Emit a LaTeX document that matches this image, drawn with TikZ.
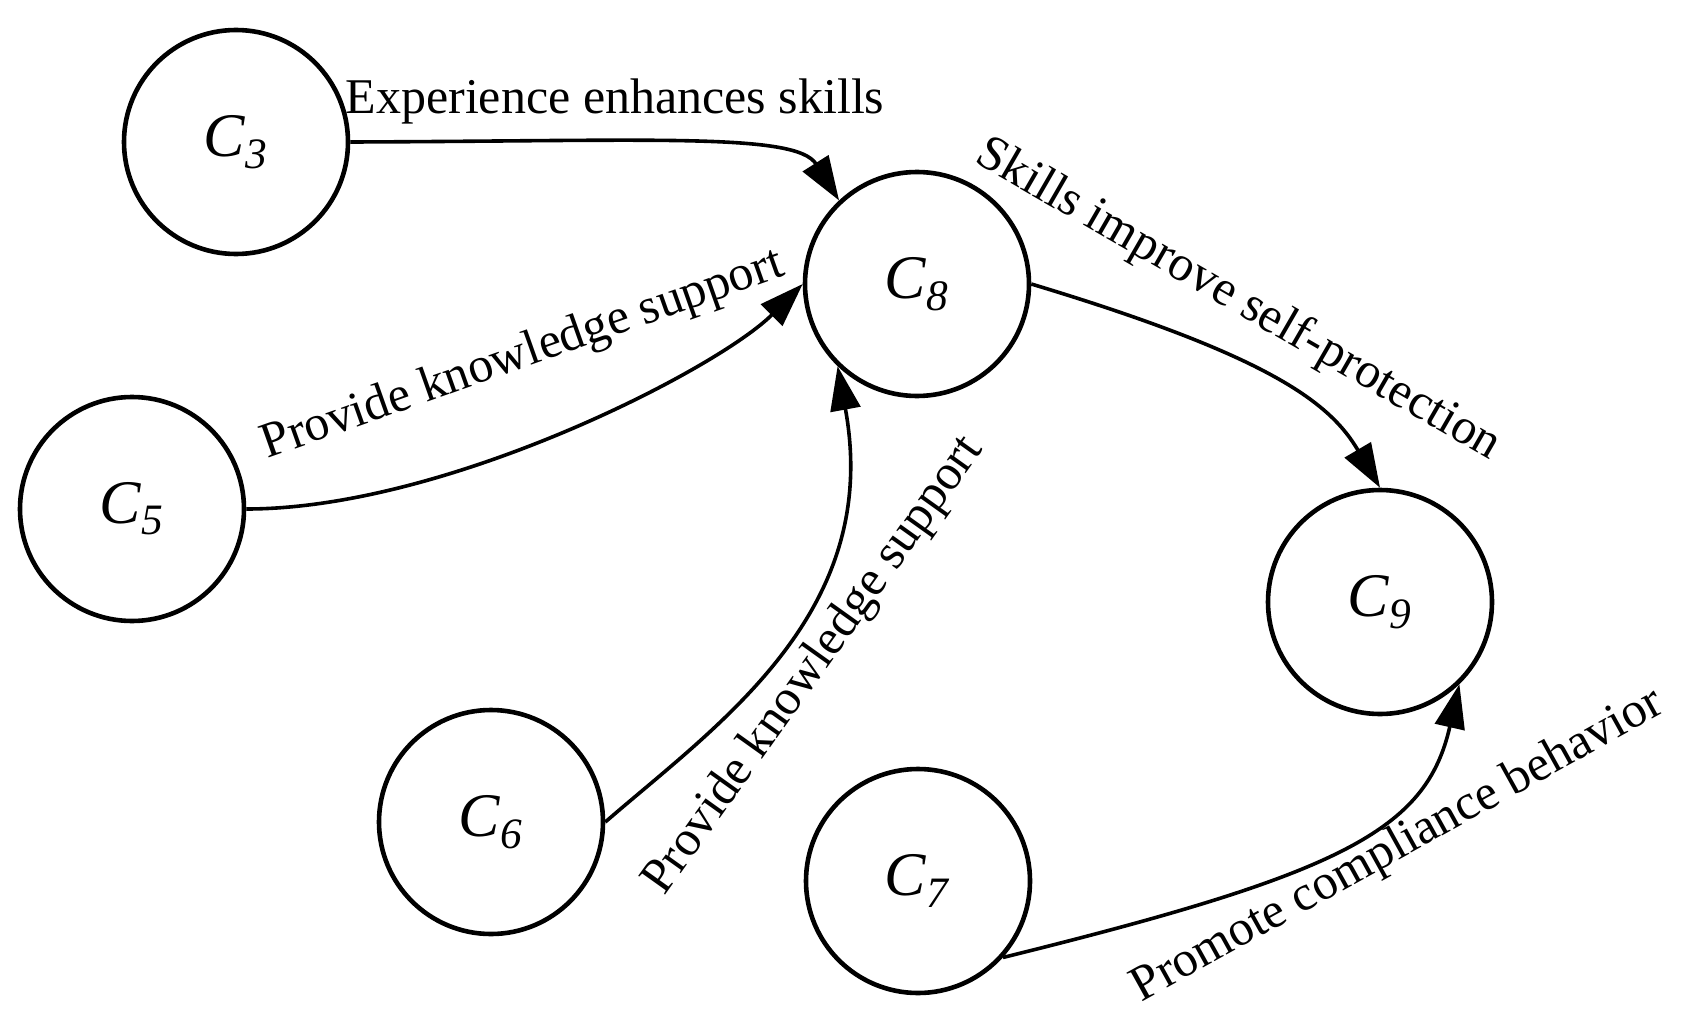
\documentclass[tikz,border=0pt]{standalone}
\usepackage{fontspec}
\setmainfont{Liberation Serif}
\usetikzlibrary{arrows.meta}
\tikzset{%
    Dconcept/.style={shape=circle, draw, line width=2.3pt, minimum size=112pt, inner sep=0pt, font=\fontsize{31}{36}\selectfont},
    Dlink/.style={line width=1.8pt, -{Triangle[length=22pt,width=15pt]}},
    Dlabel/.style={anchor=base, inner sep=0pt, font=\fontsize{25}{30}\selectfont}
}
\newcommand{\Dcname}[1]{\textit{C}\textsubscript{\textit{#1}}}

\begin{document}
\begin{tikzpicture}[x=0.5pt,y=0.5pt]
    \useasboundingbox (0,0) rectangle (1681,-1022);

    % concept nodes
    \foreach \n/\cx/\cy in {3/236/142, 5/132/509, 6/491/822,
                            7/918/881, 8/917/284, 9/1380/602}
        \node [Dconcept] (Nc\n) at (\cx,-\cy) {\Dcname{\n}};

    % causal links
    \draw [Dlink] (Nc3.east) .. controls +(300,1) and +(-43,68) .. (Nc8.133);
    \draw [Dlink] (Nc5.east) .. controls +(200,0) and +(-85,-85) .. (Nc8.west);
    \draw [Dlink] (Nc6.east) .. controls +(113,98) and +(45,-246) .. (Nc8.226);
    \draw [Dlink] (Nc8.east) .. controls +(239,-72) and +(-50,85) .. (Nc9.north);
    \draw [Dlink] (Nc7.-42) .. controls +(340,84) and +(-33,-146) .. (Nc9.-46);

    % link labels
    \node [Dlabel] (Lexp) at (615,-113) {Experience enhances skills};
    \node [Dlabel, rotate=19.5] (Lknow1) at (527,-367) {Provide knowledge support};
    \node [Dlabel, rotate=54.5] (Lknow2) at (824,-673) {Provide knowledge support};
    \node [Dlabel, rotate=-30] (Lskill) at (1232,-311) {Skills improve self-protection};
    \node [Dlabel, rotate=29] (Lcomp) at (1404,-857) {Promote compliance behavior};
\end{tikzpicture}
\end{document}
